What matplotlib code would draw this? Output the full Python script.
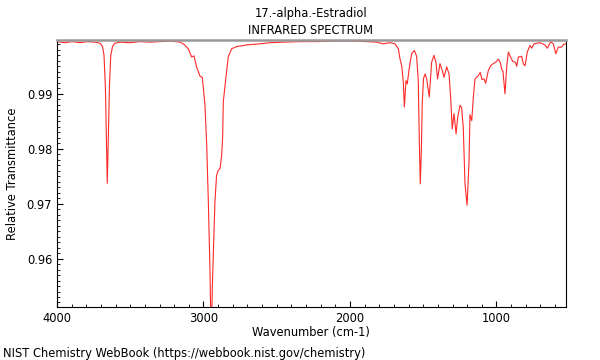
import numpy as np
import matplotlib
matplotlib.use('Agg')
from matplotlib import pyplot as plt
from matplotlib.ticker import MultipleLocator

title = '17.-alpha.-Estradiol'
subtitle = 'INFRARED SPECTRUM'
xlabel = 'Wavenumber (cm-1)'
ylabel = 'Relative Transmittance'
footer = 'NIST Chemistry WebBook (https://webbook.nist.gov/chemistry)'

# spectrum (cm-1, relative transmittance)
wavenumber = [4000, 3945, 3898, 3843, 3788, 3741, 3706, 3689, 3679, 3669,
              3661, 3657, 3650, 3642, 3633, 3621, 3604, 3570, 3502, 3433,
              3365, 3297, 3229, 3188, 3160, 3133, 3104, 3081, 3065, 3046,
              3024, 3008, 2990, 2978, 2967, 2956, 2951, 2944, 2940, 2922,
              2911, 2899, 2887, 2876, 2869, 2865, 2853, 2831, 2808, 2773,
              2705, 2614, 2546, 2455, 2341, 2227, 2102, 2000, 1886, 1818,
              1773, 1727, 1693, 1670, 1659, 1647, 1636, 1629, 1618, 1609,
              1595, 1579, 1561, 1545, 1534, 1527, 1520, 1513, 1507, 1498,
              1488, 1477, 1459, 1443, 1427, 1413, 1402, 1386, 1370, 1358,
              1340, 1324, 1313, 1302, 1290, 1276, 1265, 1249, 1238, 1227,
              1215, 1201, 1188, 1181, 1169, 1158, 1147, 1124, 1111, 1099,
              1085, 1074, 1056, 1040, 1022, 1003, 988, 974, 965, 956,
              942, 930, 919, 906, 889, 870, 862, 851, 828, 816,
              805, 790, 771, 760, 744, 724, 703, 669, 653, 630,
              612, 595, 578, 555, 543, 529]
transmittance = [0.9995, 0.9993, 0.9995, 0.9993, 0.9995, 0.9994, 0.9992, 0.9986, 0.9970, 0.9906,
                 0.9797, 0.9737, 0.9815, 0.9915, 0.9970, 0.9986, 0.9992, 0.9994, 0.9993, 0.9995,
                 0.9994, 0.9995, 0.9996, 0.9995, 0.9994, 0.9990, 0.9982, 0.9967, 0.9969, 0.9948,
                 0.9932, 0.9930, 0.9879, 0.9806, 0.9703, 0.9582, 0.9500, 0.9485, 0.9546, 0.9703,
                 0.9751, 0.9761, 0.9764, 0.9788, 0.9824, 0.9885, 0.9915, 0.9967, 0.9982, 0.9986,
                 0.9989, 0.9991, 0.9993, 0.9994, 0.9995, 0.9995, 0.9996, 0.9996, 0.9995, 0.9994,
                 0.9991, 0.9993, 0.9991, 0.9982, 0.9964, 0.9951, 0.9921, 0.9876, 0.9924, 0.9918,
                 0.9948, 0.9973, 0.9979, 0.9968, 0.9924, 0.9815, 0.9736, 0.9797, 0.9882, 0.9928,
                 0.9936, 0.9928, 0.9894, 0.9957, 0.9970, 0.9957, 0.9927, 0.9955, 0.9942, 0.9930,
                 0.9949, 0.9936, 0.9894, 0.9836, 0.9864, 0.9827, 0.9857, 0.9879, 0.9875, 0.9839,
                 0.9736, 0.9697, 0.9773, 0.9862, 0.9851, 0.9894, 0.9927, 0.9933, 0.9939, 0.9926,
                 0.9927, 0.9919, 0.9942, 0.9951, 0.9955, 0.9958, 0.9963, 0.9957, 0.9945, 0.9941,
                 0.9900, 0.9950, 0.9976, 0.9968, 0.9959, 0.9957, 0.9950, 0.9967, 0.9968, 0.9954,
                 0.9951, 0.9976, 0.9988, 0.9983, 0.9991, 0.9992, 0.9993, 0.9989, 0.9983, 0.9995,
                 0.9991, 0.9973, 0.9985, 0.9985, 0.9990, 0.9991]

fig = plt.figure(figsize=(6, 3.6), dpi=100)
ax = fig.add_axes([0.095, 0.146, 0.8475, 0.743])

ax.plot(wavenumber, transmittance, color='#ff2a2a', lw=0.8)

ax.set_xlim(4000, 529)
ax.set_ylim(0.9511, 0.9998)
ax.xaxis.set_major_locator(MultipleLocator(1000))
ax.xaxis.set_minor_locator(MultipleLocator(100))
ax.yaxis.set_minor_locator(MultipleLocator(0.001))
ax.set_yticks([0.96, 0.97, 0.98, 0.99])
ax.tick_params(which='both', direction='in', top=False, right=False, labelsize=8.3)
ax.tick_params(which='major', length=4)
ax.tick_params(which='minor', length=2)

ax.spines['top'].set_color('#999999')
ax.spines['top'].set_linewidth(1.8)

ax.set_xlabel(xlabel, fontsize=8.3, labelpad=0.5)
ax.set_ylabel(ylabel, fontsize=8.3)
ax.yaxis.set_label_coords(-0.074, 0.5)

fig.text(0.518, 1 - 13 / 360, title, fontsize=8.3, ha='center', va='center')
fig.text(0.518, 1 - 30 / 360, subtitle, fontsize=8.3, ha='center', va='center')
fig.text(0.005, 1 - 353 / 360, footer, fontsize=8.3, va='center')

plt.savefig('out.png')
